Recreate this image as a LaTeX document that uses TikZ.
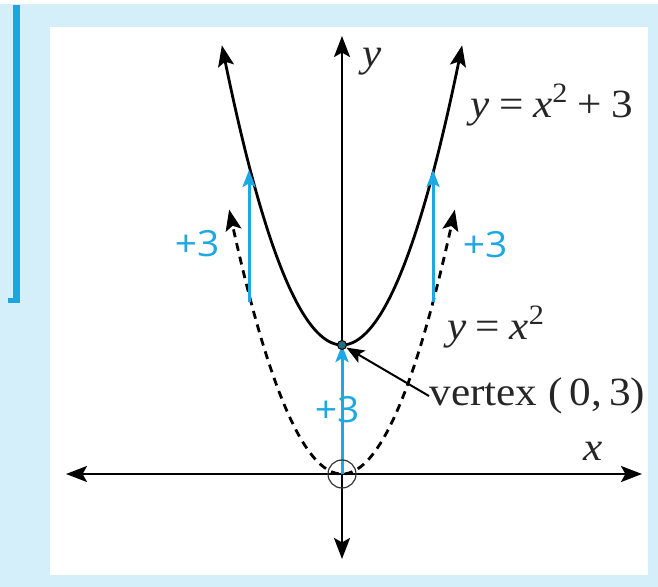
\documentclass[tikz,border=0pt]{standalone}
\usepackage{fontspec}
\setmainfont{Liberation Serif}
\newfontfamily\blfont{Open Sans}
\usetikzlibrary{arrows.meta}
\definecolor{paleblue}{HTML}{D4EEFA}
\definecolor{barblue}{HTML}{1CA5E0}
\definecolor{plusblue}{HTML}{1DA8E4}
\definecolor{vtx}{HTML}{1E6F80}
\tikzset{
  bigtip/.tip={Stealth[length=10.5pt,width=8pt,inset=2.2pt]},
  axisline/.style={line width=1.1pt, bigtip-bigtip},
  curvesolid/.style={line width=1.4pt, smooth, samples=80, bigtip-bigtip},
  curvedash/.style={line width=1.4pt, dash pattern=on 4pt off 3pt, smooth, samples=80, bigtip-bigtip},
  shiftarrow/.style={draw=plusblue, line width=1.5pt, -{Stealth[length=8.5pt,width=6.5pt,inset=1.8pt]}},
  plusthree/.style={text=plusblue, font=\blfont\fontsize{18}{20}\selectfont, inner sep=0pt},
  lbl/.style={font=\fontsize{20}{23}\selectfont, inner sep=0pt, text=black!85},
}
\newcommand{\wide}[1]{\scalebox{1.08}[1]{#1}}
\newcommand{\gp}{\hspace{0.22em}}
\begin{document}
\begin{tikzpicture}[x=0.5pt, y=-0.5pt]
\useasboundingbox (0,0) rectangle (658,587);
% frame
\fill[paleblue] (0,0) rectangle (658,587);
\fill[white] (0,0) rectangle (658,4);
\fill[white] (50,27) rectangle (648,575);
\fill[barblue] (13,5) rectangle (20,303);
\fill[barblue] (8,298) rectangle (20,303);
% axes
\coordinate (O) at (342,474);
\coordinate (xl) at (66,474);
\coordinate (xr) at (642,474);
\coordinate (yt) at (342,36);
\coordinate (yb) at (342,559);
\draw[axisline] (xl) -- (xr);
\draw[axisline] (yb) -- (yt);
% curves
\draw[curvedash] plot[domain=-2.48:2.48] ({342+45.5*\x},{474-43*\x*\x});
\draw[curvesolid] plot[domain=-2.64:2.64] ({342+45.5*\x},{474-43*(\x*\x+3)});
% shift arrows
\coordinate (lb) at (249,302);
\coordinate (lt) at (249,170);
\coordinate (rb) at (433,302);
\coordinate (rt) at (433,170);
\coordinate (V) at (342,345);
\draw[shiftarrow] (lb) -- (lt);
\draw[shiftarrow] (rb) -- (rt);
\draw[shiftarrow] (O) -- (V);
% origin circle and vertex
\node[draw=black!80, line width=0.6pt, circle, minimum size=14pt, inner sep=0pt] (oc) at (O) {};
\node[draw=black, fill=vtx, circle, minimum size=4.5pt, inner sep=0pt, line width=0.5pt] (vd) at (V) {};
% labels
\node[lbl] (ylab) at (372,62) {\wide{\textit{y}}};
\node[lbl] (xlab) at (593,451) {\wide{\textit{x}}};
\node[lbl] (eq1) at (552,105) {\wide{\textit{y}\gp=\gp\textit{x}\textsuperscript{2}\gp+\gp3}};
\node[lbl] (eq2) at (496,327) {\wide{\textit{y}\gp=\gp\textit{x}\textsuperscript{2}}};
\node[lbl, anchor=west] (vlab) at (429,396) {\wide{vertex (\,0,\,3)}};
\draw[line width=1pt, -{Stealth[length=9pt,width=7pt,inset=2pt]}] (vlab.west) -- (vd);
\node[plusthree] (p1) at (197,244) {\wide{+3}};
\node[plusthree] (p2) at (485,245) {\wide{+3}};
\node[plusthree] (p3) at (337,410) {\wide{+3}};
\end{tikzpicture}
\end{document}
